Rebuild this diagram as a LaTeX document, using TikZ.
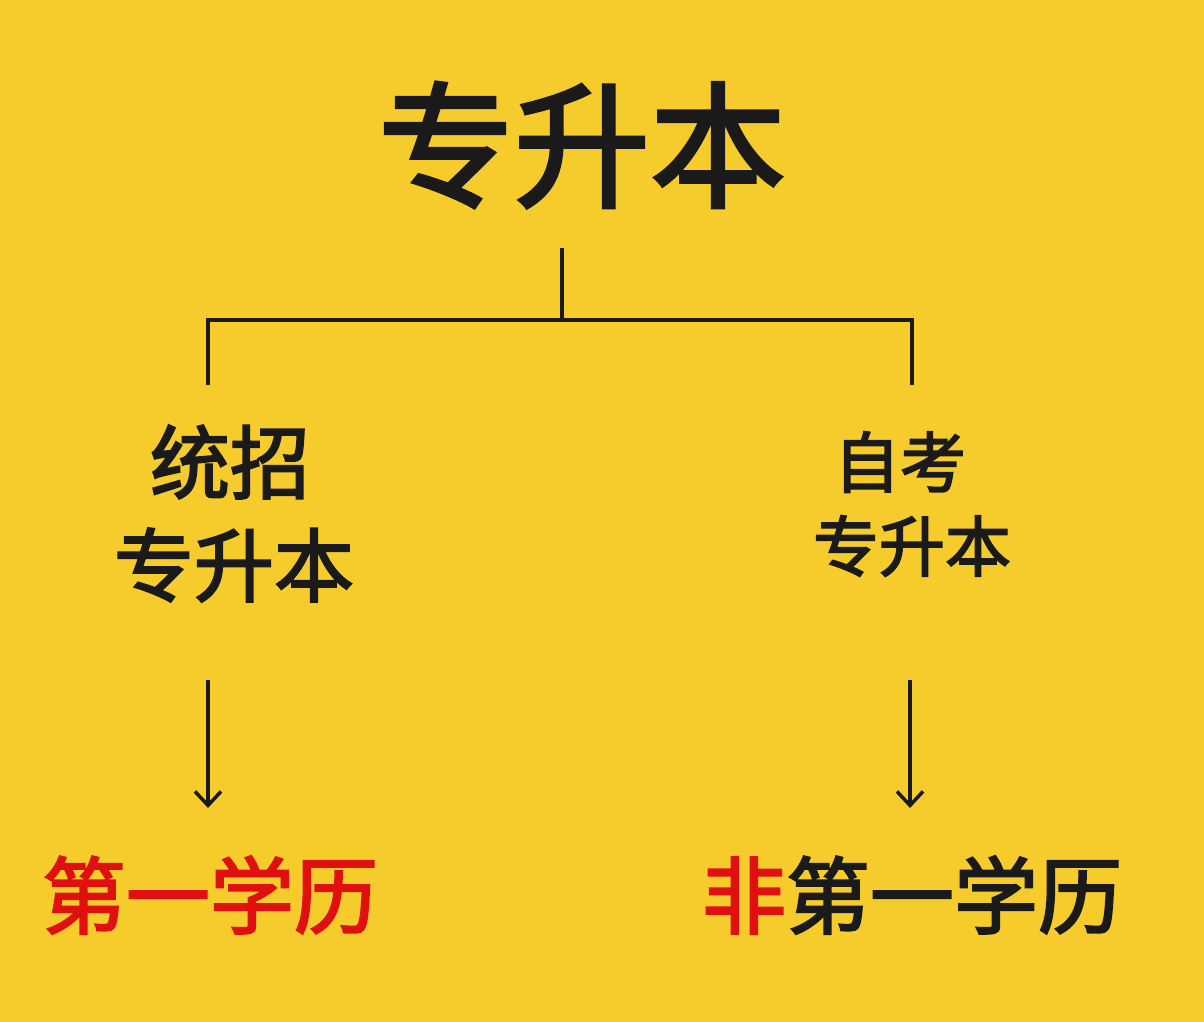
\documentclass[tikz,border=0pt]{standalone}
\usepackage{fontspec}
\usetikzlibrary{arrows.meta}
\newfontfamily\cjk[FakeBold=2.5]{Noto Sans CJK SC}
\definecolor{bg}{HTML}{F6CB2C}
\definecolor{red1}{HTML}{E01010}
\definecolor{ink}{HTML}{1A1A1A}
\tikzset{lbl/.style={font=\cjk, text=ink, inner sep=0pt}, conn/.style={line width=4pt, draw=ink}}
\begin{document}
\begin{tikzpicture}[x=1pt,y=-1pt]
\fill[bg] (0,0) rectangle (1204,1022);
\useasboundingbox (0,0) rectangle (1204,1022);
\node[lbl, font=\cjk\fontsize{136}{138}\selectfont] (top) at (582,145) {专升本};
\coordinate (tb) at (562,248);
\coordinate (mid) at (562,320);
\coordinate (l) at (208,320);
\coordinate (r) at (912,320);
\coordinate (le) at (208,385);
\coordinate (re) at (912,385);
\draw[conn] (tb) -- (mid);
\draw[conn] (le) -- (l) -- (r) -- (re);
\node[lbl, font=\cjk\fontsize{80}{82}\selectfont] (l1) at (230,462) {统招};
\node[lbl, font=\cjk\fontsize{80}{82}\selectfont] (l2) at (234,565) {专升本};
\node[lbl, font=\cjk\fontsize{66}{68}\selectfont] (r1) at (900,462) {自考};
\node[lbl, font=\cjk\fontsize{66}{68}\selectfont] (r2) at (912,546) {专升本};
\coordinate (la1) at (208,680); \coordinate (la2) at (208,808);
\coordinate (ra1) at (910,680); \coordinate (ra2) at (910,808);
\draw[conn, line width=3.5pt, -{Straight Barb[length=14pt,width=26pt]}] (la1) -- (la2);
\draw[conn, line width=3.5pt, -{Straight Barb[length=14pt,width=26pt]}] (ra1) -- (ra2);
\node[lbl, text=red1, font=\cjk\fontsize{84}{86}\selectfont] (lb) at (210,895) {第一学历};
\node[lbl, font=\cjk\fontsize{84}{86}\selectfont] (rb) at (912,895) {\textcolor{red1}{非}第一学历};
\end{tikzpicture}
\end{document}
